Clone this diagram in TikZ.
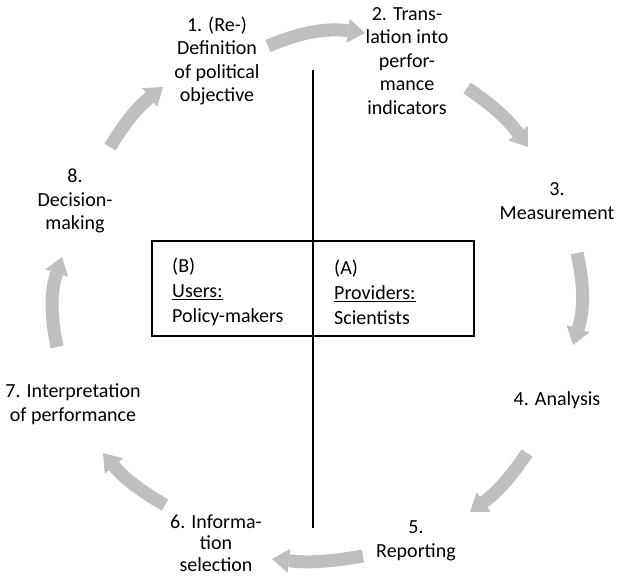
\documentclass[tikz,border=0pt]{standalone}
\usepackage{fontspec}
\setmainfont{Carlito}
\usetikzlibrary{arrows.meta}

\begin{document}
\begin{tikzpicture}[x=1pt, y=1pt,
    stage/.style={align=center, font=\fontsize{20}{23.5}\selectfont, inner sep=0pt},
    role/.style={align=left, anchor=west, font=\fontsize{20}{25}\selectfont, inner sep=0pt},
    turn/.style={draw=black!25, line width=13pt, -{Triangle[width=24pt, length=17pt, line width=0pt]}}]
  \useasboundingbox (0,0) rectangle (617,575);

  % the eight stages
  \node[stage] (define)    at (217,514) {1. (Re-)\\Definition\\of political\\objective};
  \node[stage] (translate) at (407,514) {2. Trans-\\lation into\\perfor-\\mance\\indicators};
  \node[stage] (measure)   at (557,374) {3.\\Measurement};
  \node[stage] (analyse)   at (557,175) {4. Analysis};
  \node[stage] (report)    at (416,34)  {5.\\Reporting};
  \node[stage, font=\fontsize{20}{21.5}\selectfont] (select) at (216,32) {6. Informa-\\tion\\selection};
  \node[stage] (interpret) at (73,171)  {7. Interpretation\\of performance};
  \node[stage] (decide)    at (75,374)  {8.\\Decision-\\making};

  % users and providers
  \node[draw, line width=1.5pt, minimum width=322pt, minimum height=95pt] (roles) at (313,286.5) {};
  \node[role] (users)     at (172,283) {(B)\\\underline{Users:}\\Policy-makers};
  \node[role] (providers) at (334,283) {(A)\\\underline{Providers:}\\Scientists};
  \coordinate (top) at (313,505);
  \coordinate (bottom) at (313,47);
  \draw[line width=1.5pt] (top) -- (bottom);

  % the cycle
  \coordinate (s1) at (268,529); \coordinate (e1) at (365,542);
  \coordinate (s2) at (467,487); \coordinate (e2) at (528,428);
  \coordinate (s3) at (577,322); \coordinate (e3) at (573,230);
  \coordinate (s4) at (527,122); \coordinate (e4) at (470,63);
  \coordinate (s5) at (363,19);  \coordinate (e5) at (272,16);
  \coordinate (s6) at (165,70);  \coordinate (e6) at (103,122);
  \coordinate (s7) at (57,228);  \coordinate (e7) at (62,318);
  \coordinate (s8) at (110,428); \coordinate (e8) at (163,488);
  \foreach \i/\b in {1/15, 2/10, 3/15, 4/10, 5/8, 6/10, 7/15, 8/10}
    \draw[turn] (s\i) to[bend left=\b] (e\i);
\end{tikzpicture}
\end{document}
